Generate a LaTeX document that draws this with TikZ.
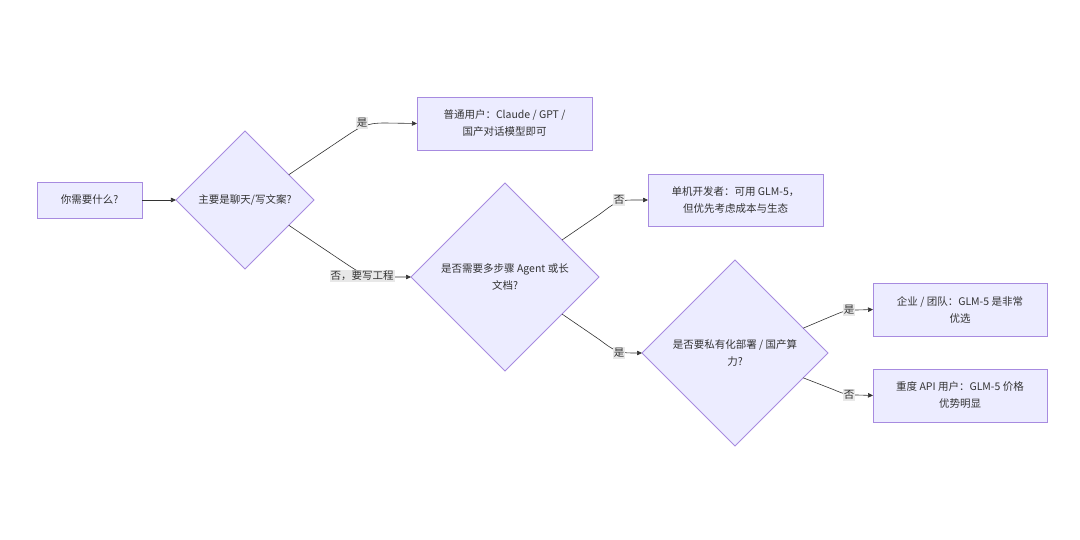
\documentclass[tikz,border=0pt]{standalone}
\usepackage{fontspec}
\setmainfont{Noto Sans CJK SC}
\usetikzlibrary{shapes.geometric,arrows.meta}
\definecolor{nodefill}{HTML}{ECECFF}
\definecolor{nodeline}{HTML}{A78BE0}
\definecolor{ink}{HTML}{333333}
\definecolor{lblbg}{HTML}{E8E8E8}
\begin{document}
\begin{tikzpicture}[x=1pt,y=-1pt,
  every node/.style={font=\fontsize{10.5}{17}\selectfont, text=ink},
  boxnode/.style={draw=nodeline, fill=nodefill, line width=0.8pt, rectangle, align=center, inner sep=0pt, outer sep=0pt},
  decision/.style={draw=nodeline, fill=nodefill, line width=0.8pt, diamond, aspect=1, align=center, inner sep=0pt, outer sep=0pt},
  edgelbl/.style={fill=lblbg, inner sep=1pt},
  conn/.style={draw=ink, line width=0.6pt, -{Triangle[length=5pt,width=4.5pt]}}
]
\useasboundingbox (0,0) rectangle (1080,540);

\node[boxnode, minimum width=105pt, minimum height=36pt] (start) at (89.5,200) {你需要什么?};
\node[decision, minimum width=138pt, minimum height=138pt] (d1) at (245,200) {主要是聊天/写文案?};
\node[boxnode, minimum width=175pt, minimum height=53pt] (a) at (504.5,123.5) {普通用户：Claude / GPT /\\国产对话模型即可};
\node[decision, minimum width=188pt, minimum height=188pt] (d2) at (505,277) {是否需要多步骤 Agent 或长\\文档?};
\node[boxnode, minimum width=175pt, minimum height=52pt] (b) at (735.5,200) {单机开发者：可用 GLM-5，\\但优先考虑成本与生态};
\node[decision, minimum width=186pt, minimum height=186pt] (d3) at (735,353) {是否要私有化部署 / 国产算\\力?};
\node[boxnode, minimum width=174pt, minimum height=53pt] (c) at (960,309.5) {企业 / 团队：GLM-5 是非常\\优选};
\node[boxnode, minimum width=174pt, minimum height=53pt] (d) at (960,395.5) {重度 API 用户：GLM-5 价格\\优势明显};

\draw[conn] (start) -- (d1);
\draw[conn] (d1.30) -- (342,139) .. controls (360,127) and (365,123) .. (385,123) -- (a.west);
\draw[conn] (d1.-30) -- (342,261) .. controls (360,273) and (365,277) .. (385,277) -- (d2.west);
\draw[conn] (d2.33) -- (600,214) .. controls (613,204) and (618,200) .. (632,200) -- (b.west);
\draw[conn] (d2.-33) -- (600,340) .. controls (613,350) and (618,353) .. (632,353) -- (d3.west);
\draw[conn] (d3.20) -- (832,316) .. controls (842,312) and (845,310) .. (857,310) -- (c.west);
\draw[conn] (d3.-20) -- (832,389) .. controls (842,393) and (845,395) .. (857,395) -- (d.west);

\node[edgelbl] (l1) at (362,123) {是};
\node[edgelbl] (l2) at (362,276) {否，要写工程};
\node[edgelbl] (l3) at (619,200) {否};
\node[edgelbl] (l4) at (619,353) {是};
\node[edgelbl] (l5) at (849,310) {是};
\node[edgelbl] (l6) at (849,395) {否};
\end{tikzpicture}
\end{document}
